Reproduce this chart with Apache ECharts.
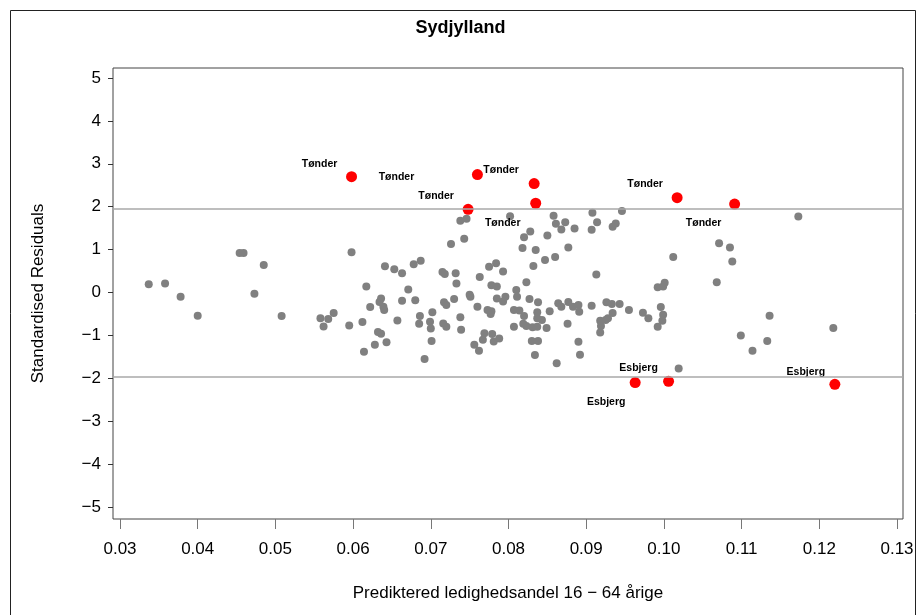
<!DOCTYPE html>
<html>
<head>
<meta charset="utf-8">
<script src="https://cdn.jsdelivr.net/npm/echarts@6/dist/echarts.min.js"></script>
<style>
  html, body { margin: 0; padding: 0; background: #fff; }
  #chart { width: 921px; height: 615px; }
</style>
</head>
<body>
<div id="chart"></div>
<script>
// predicted share (x) and standardised residual (y), ordinary municipalities
const grayX = [0.0337,0.0358,0.0378,0.0400,0.0454,0.0459,0.0485,0.0473,0.0508,
  0.0738,0.0746,0.0743,0.0726,0.0598,0.0641,0.0653,0.0663,0.0678,0.0687,0.0715,0.0718,0.0732,0.0763,0.0733,0.0617,0.0671,0.0636,0.0634,0.0639,0.0640,0.0622,0.0663,0.0680,0.0717,0.0720,0.0730,0.0750,0.0751,0.0760,0.0773,0.0778,0.0777,
  0.0558,0.0568,0.0575,0.0562,0.0595,0.0612,0.0657,0.0686,0.0685,0.0702,0.0699,0.0700,0.0716,0.0720,0.0738,0.0739,0.0632,0.0636,0.0643,0.0628,0.0614,0.0701,0.0692,0.0769,0.0767,0.0756,0.0762,
  0.0775,0.0784,0.0793,0.0778,0.0785,0.0785,0.0793,0.0796,0.0802,0.0858,0.0861,0.0868,0.0873,0.0885,0.0908,0.0914,0.0907,0.0946,0.0938,0.0934,0.0828,0.0820,0.0850,0.0818,0.0835,0.0877,0.0860,0.0847,0.0832,0.0913,0.1012,
  0.0823,0.0810,0.0811,0.0827,0.0838,0.0877,0.0864,0.0868,0.0883,0.0890,0.0891,0.0907,0.0926,0.0933,0.0943,0.0955,0.0973,0.0980,0.0999,0.0992,0.1001,0.0996,0.0999,0.0998,0.0992,
  0.0807,0.0814,0.0820,0.0837,0.0837,0.0853,0.0843,0.0819,0.0823,0.0831,0.0837,0.0849,0.0876,0.0807,0.0918,0.0919,0.0918,0.0928,0.0934,0.0925,0.0779,0.0781,0.0788,0.0830,0.0838,0.0834,0.0890,0.0892,0.0862,0.1019,
  0.1173,0.1071,0.1085,0.1088,0.1068,0.1136,0.1218,0.1099,0.1133,0.1114];
const grayY = [0.19,0.21,-0.10,-0.54,0.92,0.92,0.64,-0.03,-0.55,
  1.67,1.72,1.25,1.13,0.94,0.61,0.54,0.45,0.66,0.74,0.48,0.43,0.45,0.36,0.21,0.14,0.07,-0.14,-0.22,-0.33,-0.41,-0.34,-0.19,-0.18,-0.23,-0.29,-0.15,-0.05,-0.10,-0.33,-0.41,-0.44,-0.50,
  -0.60,-0.62,-0.48,-0.79,-0.77,-0.69,-0.65,-0.55,-0.73,-0.46,-0.68,-0.84,-0.72,-0.80,-0.58,-0.87,-0.92,-0.96,-1.16,-1.22,-1.38,-1.13,-1.55,-0.95,-1.10,-1.22,-1.36,
  0.60,0.68,0.49,0.17,0.14,-0.14,-0.21,-0.10,1.78,1.79,1.60,1.47,1.64,1.49,1.86,1.64,1.46,1.90,1.61,1.53,1.42,1.29,1.33,1.04,0.99,1.05,0.83,0.76,0.62,0.42,0.83,
  0.24,0.06,-0.10,-0.15,-0.23,-0.22,-0.25,-0.33,-0.33,-0.29,-0.45,-0.31,-0.23,-0.27,-0.27,-0.41,-0.47,-0.60,0.14,0.12,0.23,-0.34,-0.52,-0.66,-0.80,
  -0.41,-0.42,-0.55,-0.46,-0.60,-0.44,-0.64,-0.73,-0.78,-0.81,-0.80,-0.83,-0.73,-0.80,-0.66,-0.78,-0.93,-0.60,-0.48,-0.64,-0.97,-1.14,-1.07,-1.13,-1.13,-1.46,-1.15,-1.45,-1.65,-1.77,
  1.77,1.15,1.05,0.72,0.24,-0.54,-0.83,-1.00,-1.13,-1.36];

// outliers (|residual| > 1.96)
const redX = [0.0598,0.0760,0.0833,0.0835,0.0748,0.1017,0.1091,0.0963,0.1006,0.1220];
const redY = [2.70,2.75,2.54,2.08,1.94,2.21,2.06,-2.10,-2.07,-2.14];
const redName = ['Tønder','Tønder','Tønder','Tønder','Tønder','Tønder','Tønder','Esbjerg','Esbjerg','Esbjerg'];

const xTicks = [0.03,0.04,0.05,0.06,0.07,0.08,0.09,0.10,0.11,0.12,0.13];
const yTicks = [-5,-4,-3,-2,-1,0,1,2,3,4,5];
const cutoff = 1.96;

// label placement (pixels, relative to the point)
const labelOffsets = [[-32,-13],[-81,3],[-33,-13],[-33,20],[-32,-13],[-32,-14],[-31,19],[-29,20],[-30,-13],[-29,-12]];

const font = 'Liberation Sans, Arial, sans-serif';

const grayData = grayX.map((x, i) => [x, grayY[i]]);
const redData = redX.map((x, i) => ({
    value: [x, redY[i]],
    label: {offset: labelOffsets[i]}
}));

const chart = echarts.init(document.getElementById('chart'));
chart.setOption({
    animation: false,
    backgroundColor: '#fff',
    title: {
        text: 'Sydjylland',
        left: 'center',
        top: 14,
        textStyle: {fontFamily: font, fontSize: 18, fontWeight: 'bold', color: '#000'}
    },
    graphic: [{
        type: 'rect',
        shape: {x: 10.5, y: 10.5, width: 905, height: 700},
        style: {fill: 'none', stroke: '#222', lineWidth: 1},
        silent: true
    }],
    grid: {
        left: 113, right: 18, top: 68, bottom: 96,
        show: true, borderColor: '#444', borderWidth: 1
    },
    xAxis: {
        type: 'value',
        min: 0.0291, max: 0.13077,
        name: 'Prediktered ledighedsandel 16 − 64 årige',
        nameLocation: 'middle',
        nameGap: 66,
        nameTextStyle: {fontFamily: font, fontSize: 17, color: '#000'},
        axisLine: {show: false, onZero: false},
        splitLine: {show: false},
        axisTick: {show: true, length: 10, customValues: xTicks, lineStyle: {color: '#777'}},
        axisLabel: {
            customValues: xTicks, margin: 22,
            fontFamily: font, fontSize: 17, color: '#000',
            formatter: v => v.toFixed(2)
        }
    },
    yAxis: {
        type: 'value',
        min: -5.28, max: 5.233,
        name: 'Standardised Residuals',
        nameLocation: 'middle',
        nameGap: 66,
        nameTextStyle: {fontFamily: font, fontSize: 17, color: '#000'},
        axisLine: {show: false, onZero: false},
        splitLine: {show: false},
        axisTick: {show: true, length: 5, customValues: yTicks, lineStyle: {color: '#333'}},
        axisLabel: {
            customValues: yTicks, margin: 12,
            fontFamily: font, fontSize: 17, color: '#000',
            formatter: v => String(v).replace('-', '\u2212')
        }
    },
    series: [
        {
            type: 'scatter',
            data: grayData,
            symbolSize: 8,
            itemStyle: {color: '#808080', opacity: 1},
            markLine: {
                silent: true,
                symbol: 'none',
                label: {show: false},
                lineStyle: {type: 'solid', color: '#a8a8a8', width: 1.5},
                data: [{yAxis: cutoff}, {yAxis: -cutoff}]
            },
            z: 2
        },
        {
            type: 'scatter',
            data: redData,
            symbolSize: 11,
            itemStyle: {color: '#ff0000', opacity: 1},
            label: {
                show: true,
                position: 'inside',
                formatter: p => redName[p.dataIndex],
                fontFamily: font,
                fontSize: 10.5,
                fontWeight: 'bold',
                color: '#000'
            },
            z: 3
        }
    ]
});
</script>
</body>
</html>
